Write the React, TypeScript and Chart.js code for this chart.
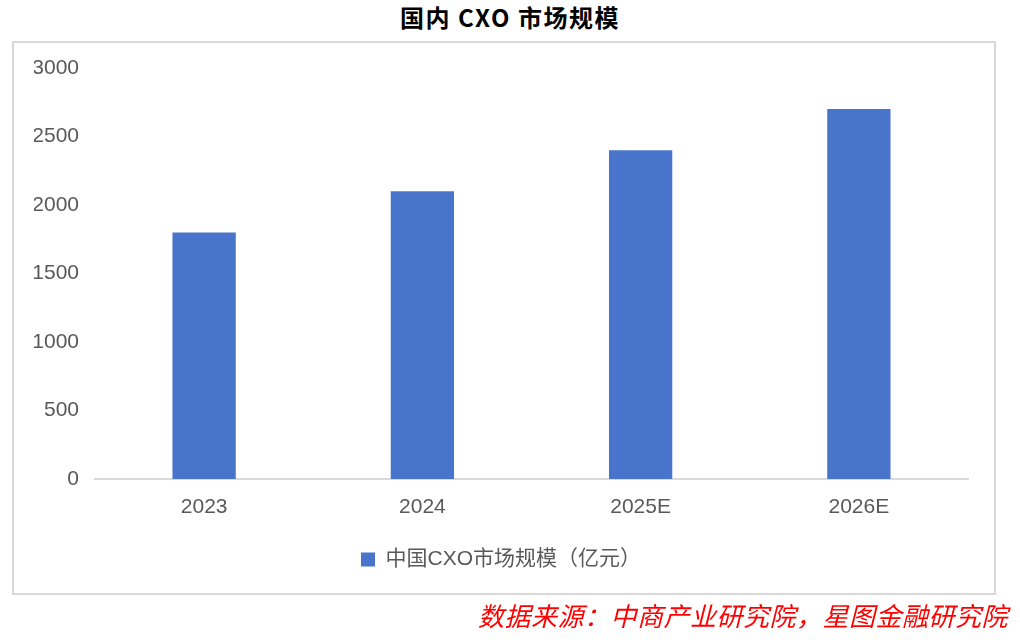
import React, { useEffect, useRef } from "react";
import { Chart, registerables } from "chart.js";

Chart.register(...registerables);

const categories = ["2023", "2024", "2025E", "2026E"];
const marketSize = [1800, 2100, 2400, 2700];
const seriesLabel = "中国CXO市场规模（亿元）";
const titleText = "国内 CXO 市场规模";
const sourceText = "数据来源：中商产业研究院，星图金融研究院";
const yMin = 0;
const yMax = 3000;
const yStep = 500;

const labelFont = "'Liberation Sans', Arial, 'Noto Sans CJK SC', sans-serif";

export default function App() {
  const ref = useRef<HTMLCanvasElement | null>(null);

  useEffect(() => {
    if (!ref.current) return;
    const chart = new Chart(ref.current, {
      type: "bar",
      data: {
        labels: categories,
        datasets: [
          {
            label: seriesLabel,
            data: marketSize,
            backgroundColor: "#4874CB",
            borderWidth: 0,
            barPercentage: 0.29,
            categoryPercentage: 1,
          },
        ],
      },
      options: {
        animation: false,
        responsive: false,
        maintainAspectRatio: false,
        layout: { padding: { left: 34, right: 52, top: 68, bottom: 64 } },
        plugins: {
          title: { display: false },
          tooltip: { enabled: false },
          legend: {
            display: true,
            position: "bottom",
            labels: {
              boxWidth: 14,
              boxHeight: 14,
              color: "#595959",
              font: { size: 21, family: labelFont },
              padding: 10,
            },
          },
        },
        scales: {
          x: {
            grid: { display: false, drawTicks: false },
            border: { display: true, color: "#d9d9d9", width: 2 },
            ticks: {
              color: "#595959",
              font: { size: 21, family: labelFont },
              padding: 16,
            },
            afterFit: (scale: any) => {
              scale.height = 60;
            },
          },
          y: {
            min: yMin,
            max: yMax,
            grid: { display: false, drawTicks: false },
            border: { display: false },
            ticks: {
              stepSize: yStep,
              color: "#595959",
              font: { size: 21, family: labelFont },
              padding: 16,
              callback: (v: any) => String(v),
            },
            afterFit: (scale: any) => {
              scale.width = 61;
            },
          },
        },
      },
    });
    return () => chart.destroy();
  }, []);

  return (
    <div
      style={{
        position: "absolute",
        left: 0,
        top: 0,
        width: 1020,
        height: 644,
        background: "#ffffff",
        overflow: "hidden",
      }}
    >
      <div
        style={{
          position: "absolute",
          left: 0,
          width: 1020,
          top: 2,
          height: 30,
          lineHeight: "30px",
          textAlign: "center",
          fontFamily: "'Noto Sans CJK SC', sans-serif",
          fontWeight: 700,
          fontSize: 24,
          letterSpacing: "1.5px",
          color: "#000",
          whiteSpace: "pre",
        }}
      >
        {titleText}
      </div>
      <div
        style={{
          position: "absolute",
          left: 12,
          top: 41,
          width: 980,
          height: 550,
          border: "2px solid #d9d9d9",
        }}
      />
      <canvas
        ref={ref}
        width={1020}
        height={644}
        style={{ position: "absolute", left: 0, top: 0, width: 1020, height: 644 }}
      />
      <div
        style={{
          position: "absolute",
          right: 12,
          top: 599,
          height: 32,
          lineHeight: "32px",
          fontFamily: "'Noto Sans CJK SC', serif",
          fontStyle: "italic",
          fontSize: 26,
          letterSpacing: "0.5px",
          color: "#ff0000",
          whiteSpace: "nowrap",
        }}
      >
        {sourceText}
      </div>
    </div>
  );
}
